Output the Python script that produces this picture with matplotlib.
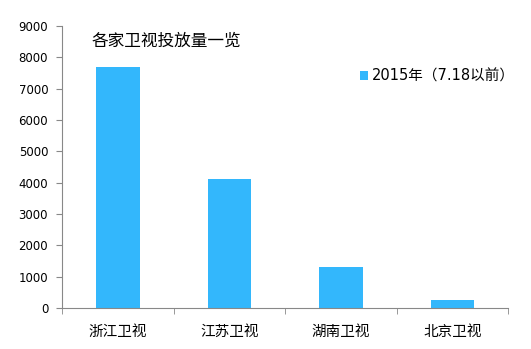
import matplotlib
matplotlib.use("Agg")
import matplotlib.pyplot as plt
import numpy as np

plt.rcParams['font.family'] = ['Noto Sans CJK SC', 'DejaVu Sans']
mixed = ['DejaVu Sans', 'Noto Sans CJK SC']

# data
categories = ["浙江卫视", "江苏卫视", "湖南卫视", "北京卫视"]
values = [7700, 4120, 1310, 250]
series_name = "2015年（7.18以前）"
title = "各家卫视投放量一览"

fig = plt.figure(figsize=(5.31, 3.49), dpi=100)
ax = fig.add_axes([0.1168, 0.1175, 0.84, 0.808])

x = np.arange(len(categories))
ax.bar(x, values, width=0.39, color="#33B7FC", label=series_name, zorder=2)

ax.set_xlim(-0.5, len(categories) - 0.5)
ax.set_ylim(0, 9000)
ax.set_yticks(np.arange(0, 9001, 1000))
ax.set_xticks(x)
ax.set_xticklabels(categories, fontsize=10.5)
ax.set_xticks(np.arange(-0.5, len(categories), 1), minor=True)
for lab in ax.get_yticklabels():
    lab.set_family(mixed)

for s in ["top", "right"]:
    ax.spines[s].set_visible(False)
for s in ["left", "bottom"]:
    ax.spines[s].set_color("#888888")

ax.tick_params(axis="y", labelsize=8.5, length=4, color="#888888", pad=6)
ax.tick_params(axis="x", which="major", length=0, pad=12)
ax.tick_params(axis="x", which="minor", length=4, color="#888888")

ax.text(0.067, 0.975, title, transform=ax.transAxes, fontsize=12, va="top", ha="left")

ax.legend(loc="upper left", bbox_to_anchor=(0.638, 0.895), frameon=False,
          prop={'family': mixed, 'size': 10.5},
          handlelength=0.55, handleheight=0.55, handletextpad=0.3)

fig.savefig("out.png", dpi=100)
